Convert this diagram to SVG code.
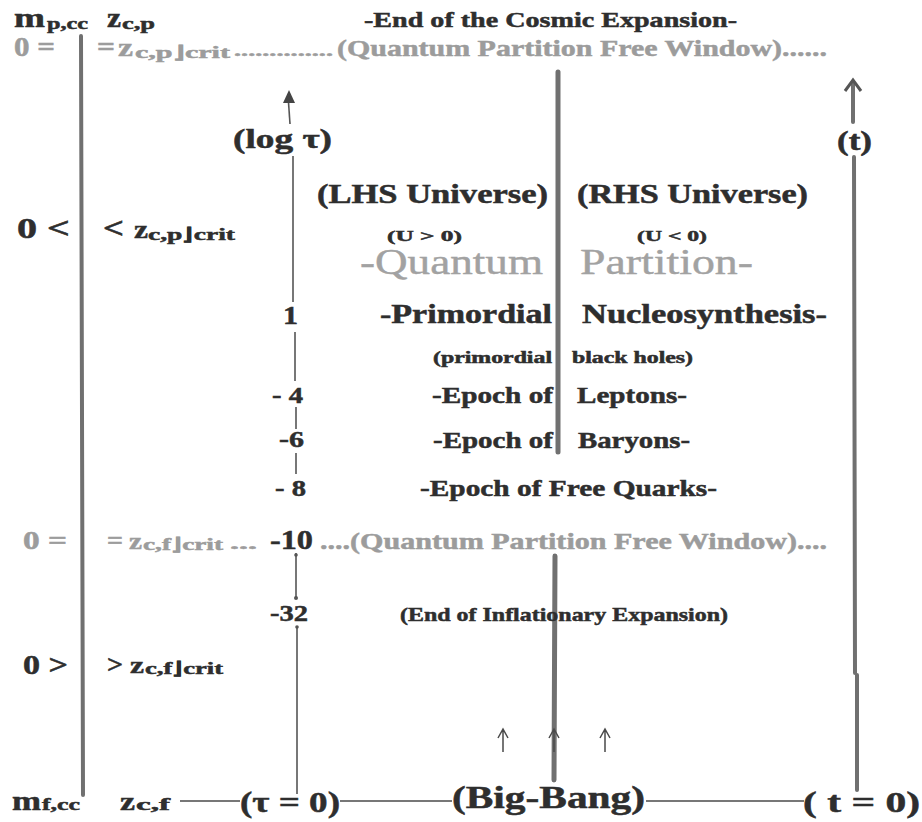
<svg xmlns="http://www.w3.org/2000/svg" width="922" height="822" viewBox="0 0 922 822">
<style>
text{font-family:"Liberation Serif","Times New Roman",serif;font-weight:bold;fill:#2e2e2e;stroke:#2e2e2e;stroke-width:0.5}
.g{fill:#9c9c9c;stroke:#9c9c9c}
.q{font-weight:normal;fill:#a2a2a2;stroke:#a2a2a2;stroke-width:0.4}
.thick{stroke:#707070;fill:none;stroke-linecap:round}
.thin{stroke:#4a4a4a;fill:none;stroke-width:1.5}
.ax{stroke:#555;fill:none;stroke-width:1.6}
</style>
<rect width="922" height="822" fill="#fff"/>

<g id="connectors">
  <line class="thick" x1="81" y1="36" x2="83" y2="795" stroke-width="4"/>
  <line class="ax" x1="288" y1="95" x2="290" y2="124"/>
  <path d="M289,90 L283,103 L295,103 Z" fill="#444"/>
  <line class="ax" x1="293" y1="156" x2="293" y2="302"/>
  <line class="ax" x1="295" y1="332" x2="295" y2="381"/>
  <line class="ax" x1="296" y1="407" x2="296" y2="429"/>
  <line class="ax" x1="296" y1="453" x2="296" y2="474"/>
  <line class="ax" x1="296" y1="553" x2="296" y2="598"/>
  <circle cx="296" cy="555" r="1.8" fill="#555"/>
  <circle cx="296" cy="598" r="2" fill="#555"/>
  <line class="ax" x1="297" y1="626" x2="297" y2="794"/>
  <circle cx="297" cy="627" r="1.8" fill="#555"/>
  <line class="thick" x1="558" y1="72" x2="558" y2="452" stroke-width="5"/>
  <line class="thick" x1="555" y1="556" x2="554" y2="780" stroke-width="5"/>
  <line class="thick" x1="853" y1="82" x2="853" y2="122" stroke-width="4"/>
  <path d="M845,91 L853,80 L861,91" stroke="#555" stroke-width="3" fill="none"/>
  <line class="thick" x1="854" y1="157" x2="855" y2="673" stroke-width="4"/>
  <line class="thick" x1="857" y1="675" x2="857" y2="790" stroke-width="4"/>
  <path class="thin" d="M503,752 L503,730 M498,738 L503,729 L508,738"/>
  <path class="thin" d="M554,752 L554,730 M549,738 L554,729 L559,738" stroke="#333"/>
  <path class="thin" d="M605,752 L605,730 M600,738 L605,729 L610,738"/>
  <line class="thin" x1="180" y1="801" x2="240" y2="801"/>
  <line class="thin" x1="340" y1="801" x2="452" y2="801"/>
  <line class="thin" x1="646" y1="801" x2="804" y2="801"/>
</g>

<g id="top-left-labels">
  <text x="14" y="27" font-size="28" textLength="31" lengthAdjust="spacingAndGlyphs">m</text>
  <text x="47" y="29" font-size="17" textLength="41" lengthAdjust="spacingAndGlyphs">p,cc</text>
  <text x="107" y="27" font-size="28" textLength="14" lengthAdjust="spacingAndGlyphs">z</text>
  <text x="122" y="29" font-size="17" textLength="33" lengthAdjust="spacingAndGlyphs">c,p</text>
</g>
<g id="title">
  <text x="364" y="27" font-size="22" textLength="373" lengthAdjust="spacingAndGlyphs">-End of the Cosmic Expansion-</text>
</g>
<g id="window-top">
  <text class="g" x="14" y="56" font-size="28" textLength="41" lengthAdjust="spacingAndGlyphs">0 =</text>
  <text class="g" x="97" y="56" font-size="28" textLength="18" lengthAdjust="spacingAndGlyphs">=</text>
  <text class="g" x="118" y="56" font-size="26" textLength="15" lengthAdjust="spacingAndGlyphs">z</text>
  <text class="g" x="135" y="58" font-size="17" textLength="95" lengthAdjust="spacingAndGlyphs">c,p⌋crit</text>
  <text class="g" x="234" y="56" font-size="17" textLength="99" lengthAdjust="spacingAndGlyphs">..............</text>
  <text class="g" x="337" y="56" font-size="24" textLength="490" lengthAdjust="spacingAndGlyphs">(Quantum Partition Free Window)......</text>
</g>
<g id="log-tau-label">
  <text x="233" y="148" font-size="27" textLength="99" lengthAdjust="spacingAndGlyphs">(log τ)</text>
</g>
<g id="t-label">
  <text x="837" y="150" font-size="27" textLength="35" lengthAdjust="spacingAndGlyphs">(t)</text>
</g>
<g id="lhs">
  <text x="317" y="203" font-size="27" textLength="231" lengthAdjust="spacingAndGlyphs">(LHS Universe)</text>
  <text x="387" y="241" font-size="15" textLength="75" lengthAdjust="spacingAndGlyphs">(U &gt; 0)</text>
</g>
<g id="rhs">
  <text x="577" y="203" font-size="27" textLength="231" lengthAdjust="spacingAndGlyphs">(RHS Universe)</text>
  <text x="637" y="241" font-size="15" textLength="70" lengthAdjust="spacingAndGlyphs">(U &lt; 0)</text>
</g>
<g id="positive-range">
  <text x="17" y="238" font-size="30" textLength="53" lengthAdjust="spacingAndGlyphs">0 &lt;</text>
  <text x="103" y="238" font-size="30" textLength="21" lengthAdjust="spacingAndGlyphs">&lt;</text>
  <text x="134" y="238" font-size="26" textLength="14" lengthAdjust="spacingAndGlyphs">z</text>
  <text x="148" y="240" font-size="17" textLength="87" lengthAdjust="spacingAndGlyphs">c,p⌋crit</text>
</g>
<g id="quantum-partition">
  <text class="q" x="360" y="274" font-size="35" textLength="183" lengthAdjust="spacingAndGlyphs">-Quantum</text>
  <text class="q" x="580" y="274" font-size="35" textLength="173" lengthAdjust="spacingAndGlyphs">Partition-</text>
</g>
<g id="nucleosynthesis">
  <text x="283" y="324" font-size="26" textLength="15" lengthAdjust="spacingAndGlyphs">1</text>
  <text x="380" y="323" font-size="27" textLength="172" lengthAdjust="spacingAndGlyphs">-Primordial</text>
  <text x="582" y="323" font-size="27" textLength="245" lengthAdjust="spacingAndGlyphs">Nucleosynthesis-</text>
  <text x="433" y="363" font-size="16" textLength="119" lengthAdjust="spacingAndGlyphs">(primordial</text>
  <text x="572" y="363" font-size="16" textLength="121" lengthAdjust="spacingAndGlyphs">black holes)</text>
</g>
<g id="leptons">
  <text x="272" y="403" font-size="24" textLength="31" lengthAdjust="spacingAndGlyphs">- 4</text>
  <text x="432" y="403" font-size="24" textLength="121" lengthAdjust="spacingAndGlyphs">-Epoch of</text>
  <text x="577" y="403" font-size="24" textLength="110" lengthAdjust="spacingAndGlyphs">Leptons-</text>
</g>
<g id="baryons">
  <text x="279" y="447" font-size="24" textLength="25" lengthAdjust="spacingAndGlyphs">-6</text>
  <text x="433" y="448" font-size="24" textLength="120" lengthAdjust="spacingAndGlyphs">-Epoch of</text>
  <text x="578" y="448" font-size="24" textLength="112" lengthAdjust="spacingAndGlyphs">Baryons-</text>
</g>
<g id="quarks">
  <text x="275" y="496" font-size="24" textLength="31" lengthAdjust="spacingAndGlyphs">- 8</text>
  <text x="420" y="496" font-size="24" textLength="297" lengthAdjust="spacingAndGlyphs">-Epoch of Free Quarks-</text>
</g>
<g id="window-bottom">
  <text class="g" x="23" y="549" font-size="26" textLength="44" lengthAdjust="spacingAndGlyphs">0 =</text>
  <text class="g" x="107" y="549" font-size="26" textLength="16" lengthAdjust="spacingAndGlyphs">=</text>
  <text class="g" x="129" y="549" font-size="24" textLength="13" lengthAdjust="spacingAndGlyphs">z</text>
  <text class="g" x="143" y="550" font-size="17" textLength="80" lengthAdjust="spacingAndGlyphs">c,f⌋crit</text>
  <text class="g" x="230" y="549" font-size="17" textLength="27" lengthAdjust="spacingAndGlyphs">...</text>
  <text x="270" y="549" font-size="28" textLength="43" lengthAdjust="spacingAndGlyphs">-10</text>
  <text class="g" x="320" y="549" font-size="24" textLength="507" lengthAdjust="spacingAndGlyphs">....(Quantum Partition Free Window)....</text>
</g>
<g id="inflation">
  <text x="270" y="621" font-size="24" textLength="38" lengthAdjust="spacingAndGlyphs">-32</text>
  <text x="400" y="621" font-size="19" textLength="328" lengthAdjust="spacingAndGlyphs">(End of Inflationary Expansion)</text>
</g>
<g id="negative-range">
  <text x="23" y="674" font-size="28" textLength="45" lengthAdjust="spacingAndGlyphs">0 &gt;</text>
  <text x="107" y="673" font-size="26" textLength="16" lengthAdjust="spacingAndGlyphs">&gt;</text>
  <text x="130" y="673" font-size="24" textLength="14" lengthAdjust="spacingAndGlyphs">z</text>
  <text x="145" y="674" font-size="17" textLength="78" lengthAdjust="spacingAndGlyphs">c,f⌋crit</text>
</g>
<g id="bottom-left-labels">
  <text x="12" y="810" font-size="28" textLength="29" lengthAdjust="spacingAndGlyphs">m</text>
  <text x="42" y="810" font-size="17" textLength="38" lengthAdjust="spacingAndGlyphs">f,cc</text>
  <text x="120" y="810" font-size="26" textLength="15" lengthAdjust="spacingAndGlyphs">z</text>
  <text x="136" y="810" font-size="17" textLength="34" lengthAdjust="spacingAndGlyphs">c,f</text>
</g>
<g id="tau-zero">
  <text x="240" y="812" font-size="30" textLength="100" lengthAdjust="spacingAndGlyphs">(τ = 0)</text>
</g>
<g id="big-bang">
  <text x="452" y="808" font-size="32" textLength="193" lengthAdjust="spacingAndGlyphs">(Big-Bang)</text>
</g>
<g id="t-zero">
  <text x="803" y="812" font-size="30" textLength="117" lengthAdjust="spacingAndGlyphs">( t = 0)</text>
</g>
</svg>
